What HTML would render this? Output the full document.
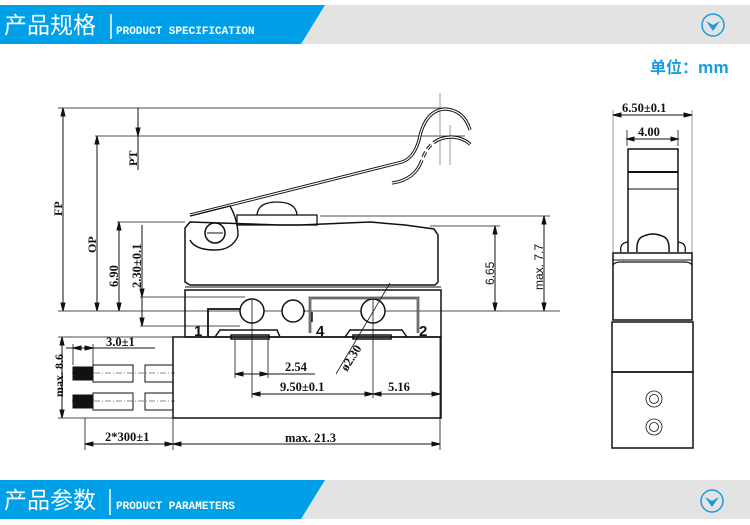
<!DOCTYPE html>
<html><head><meta charset="utf-8"><style>
html,body{margin:0;padding:0;background:#fff;}
body{width:750px;height:525px;overflow:hidden;position:relative;font-family:"Liberation Sans","Noto Sans CJK SC",sans-serif;}
svg{position:absolute;left:0;top:0;}
</style></head><body>
<svg width="750" height="525" viewBox="0 0 750 525" xmlns="http://www.w3.org/2000/svg">
<!-- top banner -->
<rect x="0" y="5" width="750" height="39" fill="#e3e3e3"/>
<polygon points="0,5 325,5 301,44 0,44" fill="#00a0e8"/>
<text x="4" y="33" font-family="'Noto Sans CJK SC',sans-serif" font-size="23" fill="#fff">产品规格</text>
<line x1="111" y1="14" x2="111" y2="39" stroke="#fff" stroke-width="1.5"/>
<text x="116" y="34" font-family="'Liberation Mono',monospace" font-size="11" font-weight="bold" fill="#fff">PRODUCT SPECIFICATION</text>
<circle cx="713" cy="25" r="11" fill="none" stroke="#1a9ae0" stroke-width="1.5"/>
<path d="M706,21 L713,31 L720,21 L713,25 Z" fill="#1a9ae0"/>
<text x="650" y="73" font-size="16" fill="#1a9ae0" font-family="'Noto Sans CJK SC',sans-serif" font-weight="bold">单位：mm</text>

<!-- bottom banner -->
<rect x="0" y="480" width="750" height="39" fill="#e3e3e3"/>
<polygon points="0,480 325,480 301,519 0,519" fill="#00a0e8"/>
<text x="4" y="508" font-family="'Noto Sans CJK SC',sans-serif" font-size="23" fill="#fff">产品参数</text>
<line x1="110" y1="489" x2="110" y2="515" stroke="#fff" stroke-width="1.5"/>
<text x="116" y="509" font-family="'Liberation Mono',monospace" font-size="11" font-weight="bold" fill="#fff">PRODUCT PARAMETERS</text>
<circle cx="712" cy="501" r="11" fill="none" stroke="#1a9ae0" stroke-width="1.5"/>
<path d="M705,497 L712,507 L719,497 L712,501 Z" fill="#1a9ae0"/>

<g stroke="#111" fill="none" stroke-width="1" font-family="'Liberation Serif',serif" font-weight="bold">
<line x1="58" y1="108" x2="445" y2="108" stroke-width="0.8"/>
<line x1="95" y1="136" x2="465" y2="136" stroke-width="0.8"/>
<line x1="117" y1="222" x2="185" y2="222" stroke-width="0.8"/>
<line x1="58" y1="311" x2="560" y2="311" stroke-width="0.8"/>
<line x1="140" y1="297" x2="245" y2="297" stroke-width="0.8"/>
<line x1="140" y1="326" x2="240" y2="326" stroke-width="0.8"/>
<line x1="320" y1="216" x2="550" y2="216" stroke-width="0.8"/>
<line x1="430" y1="226" x2="500" y2="226" stroke-width="0.8"/>
<line x1="440" y1="93" x2="440" y2="165" stroke="#999"/>
<line x1="450" y1="125" x2="450" y2="165" stroke="#999"/>

<line x1="63" y1="108" x2="63" y2="311"/>
<path d="M63,108 l-2,8 h4 z M63,311 l-2,-8 h4 z" fill="#111"/>
<text transform="translate(62,216) rotate(-90)" font-size="12" fill="#111" stroke="none">FP</text>
<line x1="138" y1="108" x2="138" y2="170"/>
<path d="M138,136 l-2,-8 h4 z" fill="#111"/>
<text transform="translate(137,166) rotate(-90)" font-size="12" fill="#111" stroke="none">PT</text>
<line x1="97" y1="136" x2="97" y2="311"/>
<path d="M97,136 l-2,8 h4 z M97,311 l-2,-8 h4 z" fill="#111"/>
<text transform="translate(96,253) rotate(-90)" font-size="12" fill="#111" stroke="none">OP</text>
<line x1="119" y1="222" x2="119" y2="311"/>
<path d="M119,222 l-2,8 h4 z M119,311 l-2,-8 h4 z" fill="#111"/>
<text transform="translate(118,287) rotate(-90)" font-size="12.5" fill="#111" stroke="none">6.90</text>
<line x1="142" y1="225" x2="142" y2="326"/>
<path d="M142,297 l-2,-8 h4 z M142,326 l-2,-8 h4 z" fill="#111"/>
<text transform="translate(141,288) rotate(-90)" font-size="12.5" fill="#111" stroke="none">2.30±0.1</text>
<line x1="495" y1="226" x2="495" y2="311"/>
<path d="M495,226 l-2,8 h4 z M495,311 l-2,-8 h4 z" fill="#111"/>
<text transform="translate(494,285) rotate(-90)" font-size="12" fill="#111" stroke="none" font-family="'Liberation Sans',sans-serif" font-weight="normal">6.65</text>
<line x1="544" y1="216" x2="544" y2="311"/>
<path d="M544,216 l-2,8 h4 z M544,311 l-2,-8 h4 z" fill="#111"/>
<text transform="translate(543,290) rotate(-90)" font-size="12" fill="#111" stroke="none" font-family="'Liberation Sans',sans-serif" font-weight="normal">max. 7.7</text>

<!-- lever -->
<path d="M190,215 L402,162 Q414,158 419,140 Q425,110 445,109 Q464,110 470,130" stroke-width="3.2"/>
<path d="M190,215 L402,162 Q414,158 419,140 Q425,110 445,109 Q464,110 470,130" stroke="#fff" stroke-width="1.2"/>
<path d="M392,183 Q415,180 422,160 Q430,137 452,137 Q472,138 480,160" stroke-width="3.2" stroke-dasharray="40 3 6 3 6 3 40"/>
<path d="M392,183 Q415,180 422,160 Q430,137 452,137 Q472,138 480,160" stroke="#fff" stroke-width="1.2"/>
<!-- upper housing -->
<path d="M190,222 L185,228 L185,282 L190,285 L435,285 L438,282 L438,235 L434,229 L405,225 L370,222 L300,225 L280,225 Z" stroke-width="1.5"/>
<rect x="237" y="215" width="80" height="10" stroke-width="1.3"/>
<path d="M257,215 Q258,202 277,202 Q296,202 297,215" stroke-width="1.3"/>
<path d="M190,216 L230,206 Q238,220 238,236 Q232,250 215,250 Q195,250 190,240" stroke-width="1.4"/>
<circle cx="215" cy="233" r="10" stroke-width="1.5"/>
<line x1="207" y1="233" x2="223" y2="233"/>
<!-- middle section -->
<rect x="185" y="290" width="256" height="47" stroke-width="1.5"/>
<line x1="185" y1="287" x2="441" y2="287"/>
<path d="M208,337 L208,309 L252,309 M293,311 L305,311" stroke-width="1.8"/>
<path d="M310,333 L310,298 L418,298 L418,333" stroke-width="2.5"/>
<path d="M310,333 L310,298 L418,298 L418,333" stroke="#fff" stroke-width="0.8"/>
<path d="M215,337 L220,330 L277,330 L280,337 M345,337 L350,330 L402,330 L407,337" stroke-width="1.5"/>
<rect x="231" y="335" width="38" height="4" stroke-width="1.5"/>
<rect x="353" y="335" width="38" height="4" stroke-width="1.5"/>
<circle cx="252" cy="311" r="12" fill="#fff" stroke-width="1.5"/>
<circle cx="293" cy="311" r="11" fill="#fff" stroke-width="1.5"/>
<circle cx="373" cy="311" r="12" fill="#fff" stroke-width="1.5"/>
<line x1="312" y1="312" x2="312" y2="322" stroke-width="1.5"/>
<text x="194" y="336" font-size="15" fill="#111" stroke="none" font-family="'Liberation Sans',sans-serif">1</text>
<text x="316" y="336" font-size="15" fill="#111" stroke="none" font-family="'Liberation Sans',sans-serif">4</text>
<text x="419" y="336" font-size="15" fill="#111" stroke="none" font-family="'Liberation Sans',sans-serif">2</text>
<rect x="173" y="337" width="268" height="81" stroke-width="1.5"/>
<!-- wires -->
<rect x="93" y="365" width="40" height="17"/><rect x="145" y="365" width="28" height="17"/>
<rect x="93" y="393" width="40" height="17"/><rect x="145" y="393" width="28" height="17"/>
<rect x="73" y="367" width="20" height="13" fill="#111"/>
<rect x="73" y="395" width="20" height="13" fill="#111"/>
<line x1="72" y1="373" x2="175" y2="373" stroke-dasharray="6 2 1 2" stroke-width="0.6"/>
<line x1="72" y1="401" x2="175" y2="401" stroke-dasharray="6 2 1 2" stroke-width="0.6"/>
<line x1="58" y1="337" x2="173" y2="337" stroke-width="0.8"/>
<line x1="58" y1="418" x2="173" y2="418" stroke-width="0.8"/>
<line x1="62" y1="337" x2="62" y2="418"/>
<path d="M62,337 l-2,8 h4 z M62,418 l-2,-8 h4 z" fill="#111"/>
<text transform="translate(63,397) rotate(-90)" font-size="12" fill="#111" stroke="none">max. 8.6</text>
<line x1="73" y1="344" x2="73" y2="365" stroke-width="0.8"/>
<line x1="93" y1="344" x2="93" y2="365" stroke-width="0.8"/>
<line x1="66" y1="348" x2="155" y2="348"/>
<path d="M73,348 l8,-2 v4 z M93,348 l-8,-2 v4 z" fill="#111"/>
<text x="106" y="346" font-size="12.5" fill="#111" stroke="none">3.0±1</text>
<line x1="85" y1="418" x2="85" y2="450" stroke-width="0.8"/>
<line x1="173" y1="418" x2="173" y2="450" stroke-width="0.8"/>
<line x1="440" y1="337" x2="440" y2="450" stroke-width="0.8"/>
<line x1="85" y1="444" x2="440" y2="444"/>
<path d="M85,444 l8,-2 v4 z M173,444 l-8,-2 v4 z M173,444 l8,-2 v4 z M440,444 l-8,-2 v4 z" fill="#111"/>
<text x="105" y="441" font-size="12.5" fill="#111" stroke="none">2*300±1</text>
<text x="285" y="442" font-size="12.5" fill="#111" stroke="none">max. 21.3</text>
<line x1="235" y1="339" x2="235" y2="378" stroke-width="0.8"/>
<line x1="268" y1="339" x2="268" y2="378" stroke-width="0.8"/>
<line x1="252" y1="300" x2="252" y2="398" stroke-width="0.8"/>
<line x1="373" y1="300" x2="373" y2="398" stroke-width="0.8"/>
<line x1="235" y1="374" x2="315" y2="374"/>
<path d="M235,374 l8,-2 v4 z M268,374 l-8,-2 v4 z" fill="#111"/>
<text x="285" y="371" font-size="12.5" fill="#111" stroke="none">2.54</text>
<line x1="252" y1="394" x2="440" y2="394"/>
<path d="M252,394 l8,-2 v4 z M373,394 l-8,-2 v4 z M373,394 l8,-2 v4 z M440,394 l-8,-2 v4 z" fill="#111"/>
<text x="280" y="391" font-size="12.5" fill="#111" stroke="none">9.50±0.1</text>
<text x="388" y="391" font-size="12.5" fill="#111" stroke="none">5.16</text>
<line x1="336" y1="374" x2="390" y2="283" stroke-width="0.8"/>
<text transform="translate(347,372) rotate(-58)" font-size="12.5" fill="#111" stroke="none">ø2.30</text>

<!-- side view -->
<line x1="613" y1="110" x2="613" y2="255" stroke="#999"/>
<line x1="692" y1="110" x2="692" y2="255" stroke="#999"/>
<line x1="613" y1="115" x2="692" y2="115"/>
<path d="M613,115 l8,-2 v4 z M692,115 l-8,-2 v4 z" fill="#111"/>
<text x="622" y="112" font-size="12.5" fill="#111" stroke="none">6.50±0.1</text>
<line x1="627" y1="130" x2="627" y2="146" stroke-width="0.8"/>
<line x1="678" y1="130" x2="678" y2="146" stroke-width="0.8"/>
<line x1="627" y1="139" x2="678" y2="139"/>
<path d="M627,139 l7,-2 v4 z M678,139 l-7,-2 v4 z" fill="#111"/>
<text x="638" y="136" font-size="12.5" fill="#111" stroke="none">4.00</text>
<path d="M628,252 L628,149 L678,149 L678,252" stroke-width="1.5"/>
<line x1="628" y1="172" x2="678" y2="172" stroke-width="2"/>
<line x1="628" y1="189" x2="678" y2="189"/>
<path d="M637,252 Q636,238 644,236 Q653,232 662,236 Q670,238 669,252" stroke-width="1.5"/>
<path d="M621,252 Q619,243 628,242 M685,252 Q687,243 678,242" stroke-width="1.3"/>
<rect x="613" y="253" width="79" height="67" stroke-width="1.5"/>
<path d="M613,265 Q615,262 620,262 L685,262 Q690,262 692,265" stroke-width="1.3"/>
<line x1="613" y1="260" x2="692" y2="260"/>
<rect x="612" y="322" width="81" height="50" stroke-width="1.5"/>
<rect x="612" y="372" width="81" height="76" stroke-width="1.5"/>
<circle cx="654" cy="399" r="8" stroke-width="0.8"/><circle cx="654" cy="399" r="4.5" stroke-width="0.8"/>
<circle cx="654" cy="427" r="8" stroke-width="0.8"/><circle cx="654" cy="427" r="4.5" stroke-width="0.8"/>
</g>
</svg>
</body></html>
